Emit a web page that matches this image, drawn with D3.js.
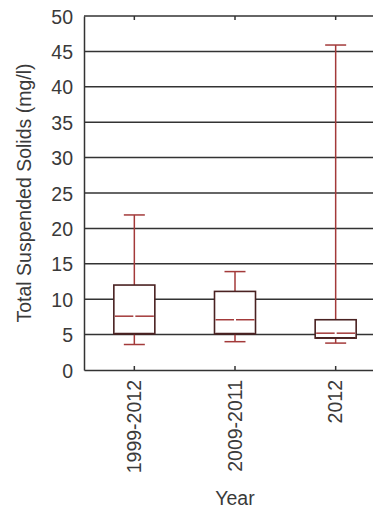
<!DOCTYPE html>
<html><head><meta charset="utf-8">
<script src="https://cdn.jsdelivr.net/npm/d3@7"></script>
<style>body{margin:0;background:#fff;} svg{display:block;}</style>
</head><body>
<script>
const categories = ["1999-2012", "2009-2011", "2012"];
const whiskerLow = [3.6, 4.0, 3.8];
const q1 = [5.1, 5.1, 4.5];
const median = [7.6, 7.1, 5.2];
const q3 = [12.0, 11.1, 7.1];
const whiskerHigh = [21.9, 13.9, 45.9];
const yTicks = [0, 5, 10, 15, 20, 25, 30, 35, 40, 45, 50];

(function(){
const W = 373, H = 516;
const svg = d3.select("body").append("svg").attr("width", W).attr("height", H);
const mLeft = 84, mRight = 386, mTop = 16, mBottom = 370;
const x = d3.scaleBand().domain(categories).range([mLeft, mRight]);
const y = d3.scaleLinear().domain([0, 50]).range([mBottom, mTop]);
const font = "Arial, 'Liberation Sans', sans-serif";
const gridCol = "#333", boxCol = "#4a2222", redCol = "#a33a3a", textCol = "#3a3a3a";

// gridlines
svg.append("g").selectAll("line").data(yTicks.filter(d => d > 0)).join("line")
  .attr("x1", mLeft).attr("x2", W).attr("y1", d => y(d)).attr("y2", d => y(d))
  .attr("stroke", gridCol).attr("stroke-width", 1.5);

// y axis
const ya = svg.append("g").attr("transform", `translate(${mLeft},0)`)
  .call(d3.axisLeft(y).tickValues(yTicks).tickSize(0).tickPadding(11));
ya.select(".domain").attr("stroke", gridCol).attr("stroke-width", 1.5);
ya.selectAll("text").attr("font-family", font).attr("font-size", 19.5).attr("fill", textCol).attr("dy", "0.36em");

// x axis bottom
const xa = svg.append("g").attr("transform", `translate(0,${mBottom})`)
  .call(d3.axisBottom(x).tickSize(-4).tickSizeOuter(0).tickFormat(""));
xa.select(".domain").attr("stroke", gridCol).attr("stroke-width", 1.5);
xa.selectAll(".tick line").attr("stroke", gridCol).attr("stroke-width", 1.5);
// top ticks
svg.append("g").attr("transform", `translate(0,${mTop})`)
  .call(d3.axisTop(x).tickSize(-4).tickSizeOuter(0).tickFormat(""))
  .call(g => g.select(".domain").remove())
  .selectAll(".tick line").attr("stroke", gridCol).attr("stroke-width", 1.5);

// x labels
svg.append("g").selectAll("text").data(categories).join("text")
  .attr("transform", d => `translate(${x(d) + x.bandwidth()/2 + 6.5},380) rotate(-90)`)
  .attr("text-anchor", "end").attr("font-family", font).attr("font-size", 19.5).attr("fill", textCol)
  .text(d => d);

// boxes
const bw = 41, cw = 21;
const g = svg.append("g").selectAll("g").data(categories).join("g")
  .attr("transform", d => `translate(${x(d) + x.bandwidth()/2},0)`);
g.append("line").attr("x1", 0).attr("x2", 0)
  .attr("y1", (d,i) => y(whiskerHigh[i])).attr("y2", (d,i) => y(q3[i]))
  .attr("stroke", redCol).attr("stroke-width", 1.5);
g.append("line").attr("x1", 0).attr("x2", 0)
  .attr("y1", (d,i) => y(q1[i])).attr("y2", (d,i) => y(whiskerLow[i]))
  .attr("stroke", redCol).attr("stroke-width", 1.5);
g.append("line").attr("x1", -cw/2).attr("x2", cw/2)
  .attr("y1", (d,i) => y(whiskerHigh[i])).attr("y2", (d,i) => y(whiskerHigh[i]))
  .attr("stroke", redCol).attr("stroke-width", 1.5);
g.append("line").attr("x1", -cw/2).attr("x2", cw/2)
  .attr("y1", (d,i) => y(whiskerLow[i])).attr("y2", (d,i) => y(whiskerLow[i]))
  .attr("stroke", redCol).attr("stroke-width", 1.5);
g.append("rect").attr("x", -bw/2).attr("width", bw)
  .attr("y", (d,i) => y(q3[i])).attr("height", (d,i) => y(q1[i]) - y(q3[i]))
  .attr("fill", "#fff").attr("stroke", boxCol).attr("stroke-width", 1.6);
g.append("line").attr("x1", -bw/2 + 1).attr("x2", bw/2 - 1)
  .attr("y1", (d,i) => y(q1[i]) - 0.5).attr("y2", (d,i) => y(q1[i]) - 0.5)
  .attr("stroke", boxCol).attr("stroke-width", 1.5);
g.append("line").attr("x1", -bw/2 + 1).attr("x2", -1)
  .attr("y1", (d,i) => y(median[i])).attr("y2", (d,i) => y(median[i]))
  .attr("stroke", redCol).attr("stroke-width", 1.5);
g.append("line").attr("x1", 1).attr("x2", bw/2 - 1)
  .attr("y1", (d,i) => y(median[i])).attr("y2", (d,i) => y(median[i]))
  .attr("stroke", redCol).attr("stroke-width", 1.5);

// titles
svg.append("text").attr("transform", `translate(31,${(mTop+mBottom)/2}) rotate(-90)`)
  .attr("text-anchor", "middle").attr("font-family", font).attr("font-size", 19.5).attr("fill", textCol)
  .text("Total Suspended Solids (mg/l)");
svg.append("text").attr("x", x(categories[1]) + x.bandwidth()/2).attr("y", 505)
  .attr("text-anchor", "middle").attr("font-family", font).attr("font-size", 19.5).attr("fill", textCol)
  .text("Year");
})();
</script>
</body></html>
